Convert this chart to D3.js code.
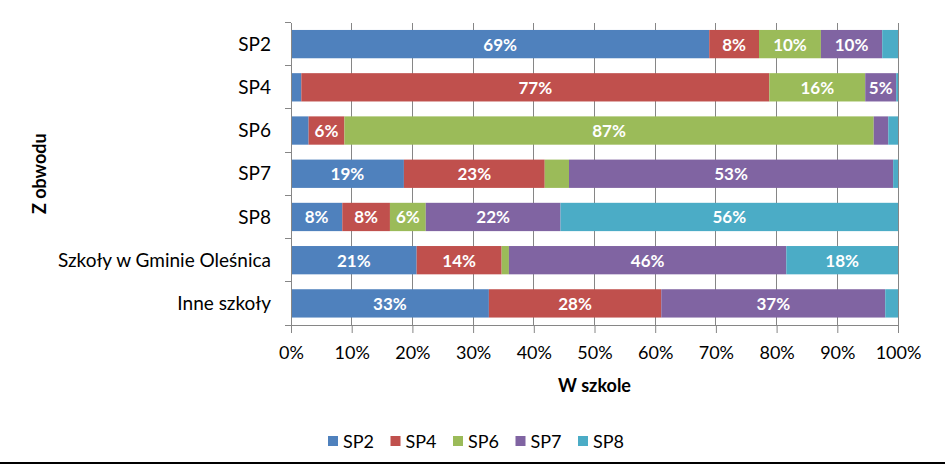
<!DOCTYPE html>
<html><head><meta charset="utf-8">
<script src="https://cdn.jsdelivr.net/npm/d3@7"></script>
<style>body{margin:0;background:#fff}svg{display:block}</style>
</head><body>
<svg id="c" width="945" height="473"></svg>
<script>
const categories = ["SP2","SP4","SP6","SP7","SP8","Szkoły w Gminie Oleśnica","Inne szkoły"];
const seriesNames = ["SP2","SP4","SP6","SP7","SP8"];
const colors = ["#4F81BD","#C0504D","#9BBB59","#8064A2","#4BACC6"];
const sp2 = [68.9, 1.7, 2.9, 18.6, 8.45, 20.7, 32.6];
const sp4 = [8.2, 77.1, 5.9, 23.2, 7.85, 14.0, 28.4];
const sp6 = [10.2, 15.8, 87.2, 4.0, 5.9, 1.2, 0.0];
const sp7 = [10.1, 5.1, 2.4, 53.4, 22.2, 45.7, 36.9];
const sp8 = [2.6, 0.3, 1.6, 0.8, 55.6, 18.4, 2.1];
const xTicks = [0,10,20,30,40,50,60,70,80,90,100];
const xTitle = "W szkole";
const yTitle = "Z obwodu";

const series = [sp2, sp4, sp6, sp7, sp8];
const FONT = "Lato, 'Open Sans', sans-serif";
const svg = d3.select("#c");
const L = 291, R = 898, T = 22.5, B = 325;
const x = d3.scaleLinear().domain([0,100]).range([L,R]);
const y = d3.scaleBand().domain(categories).range([T,B]).paddingInner(0.345).paddingOuter(0.1725);
const yb = d3.scaleBand().domain(categories).range([T,B]);

// gridlines
svg.append("g").selectAll("line").data(xTicks.slice(1)).join("line")
  .attr("x1", d=>x(d)).attr("x2", d=>x(d)).attr("y1", T).attr("y2", B)
  .attr("stroke", "#868686").attr("stroke-width", 1).attr("shape-rendering","crispEdges");

// stacked data
const rows = categories.map((c,i)=>{ const o={cat:c}; seriesNames.forEach((s,j)=>o[s]=series[j][i]); return o; });
const stack = d3.stack().keys(seriesNames)(rows);
const g = svg.append("g");
stack.forEach((layer, j)=>{
  g.append("g").attr("fill", colors[j]).selectAll("rect").data(layer).join("rect")
    .attr("x", d=>x(d[0])).attr("width", d=>x(d[1])-x(d[0]))
    .attr("y", d=>y(d.data.cat)).attr("height", y.bandwidth());
});
// labels
stack.forEach((layer, j)=>{
  g.append("g").selectAll("text").data(layer.filter(d=>d[1]-d[0]>=5)).join("text")
    .attr("x", d=>x((d[0]+d[1])/2)).attr("y", d=>y(d.data.cat)+y.bandwidth()/2)
    .attr("text-anchor","middle").attr("dominant-baseline","central")
    .attr("fill","#fff").attr("font-family",FONT).attr("font-weight","bold").attr("font-size","17px")
    .text(d=>Math.round(d[1]-d[0])+"%");
});

// x axis
const xAxis = d3.axisBottom(x).tickValues(xTicks).tickFormat(d=>d+"%").tickSize(8).tickSizeOuter(0);
const xg = svg.append("g").attr("transform",`translate(0,${B})`).call(xAxis);
xg.select(".domain").attr("stroke","#868686");
xg.selectAll(".tick line").attr("stroke","#868686").attr("y1",-0).attr("y2",8);
xg.selectAll(".tick text").attr("font-family",FONT).attr("font-size","18px").attr("fill","#000").attr("dy",0).attr("y",34);

// y axis
const yAxis = d3.axisLeft(yb).tickSize(0).tickSizeOuter(0);
const yg = svg.append("g").attr("transform",`translate(${L},0)`).call(yAxis);
yg.select(".domain").attr("stroke","#868686");
yg.selectAll(".tick text").attr("font-family",FONT).attr("font-size","19px").attr("fill","#000").attr("x",-20).attr("dy","0.35em");
// y tick marks at band boundaries
svg.append("g").selectAll("line").data(categories.concat(["__end"])).join("line")
  .attr("x1", L-6).attr("x2", L)
  .attr("y1", (d,i)=> i<categories.length ? yb(d) : B).attr("y2", (d,i)=> i<categories.length ? yb(d) : B)
  .attr("stroke","#868686").attr("shape-rendering","crispEdges");

// titles
svg.append("text").attr("x",(L+R)/2).attr("y",385).attr("text-anchor","middle").attr("dominant-baseline","central")
  .attr("font-family",FONT).attr("font-weight","bold").attr("font-size","18px").text(xTitle);
svg.append("text").attr("transform",`translate(39,${(T+B)/2}) rotate(-90)`).attr("text-anchor","middle").attr("dominant-baseline","central")
  .attr("font-family",FONT).attr("font-weight","bold").attr("font-size","18px").text(yTitle);

// legend
const lg = svg.append("g").selectAll("g").data(seriesNames).join("g")
  .attr("transform",(d,i)=>`translate(${328+i*62.5},441)`);
lg.append("rect").attr("x",0).attr("y",-5).attr("width",10).attr("height",10).attr("fill",(d,i)=>colors[i]);
lg.append("text").attr("x",15).attr("y",0).attr("dominant-baseline","central")
  .attr("font-family",FONT).attr("font-size","18px").text(d=>d);

// bottom rule
svg.append("line").attr("x1",0).attr("x2",945).attr("y1",463).attr("y2",463).attr("stroke","#000").attr("stroke-width",2);
</script>
</body></html>
